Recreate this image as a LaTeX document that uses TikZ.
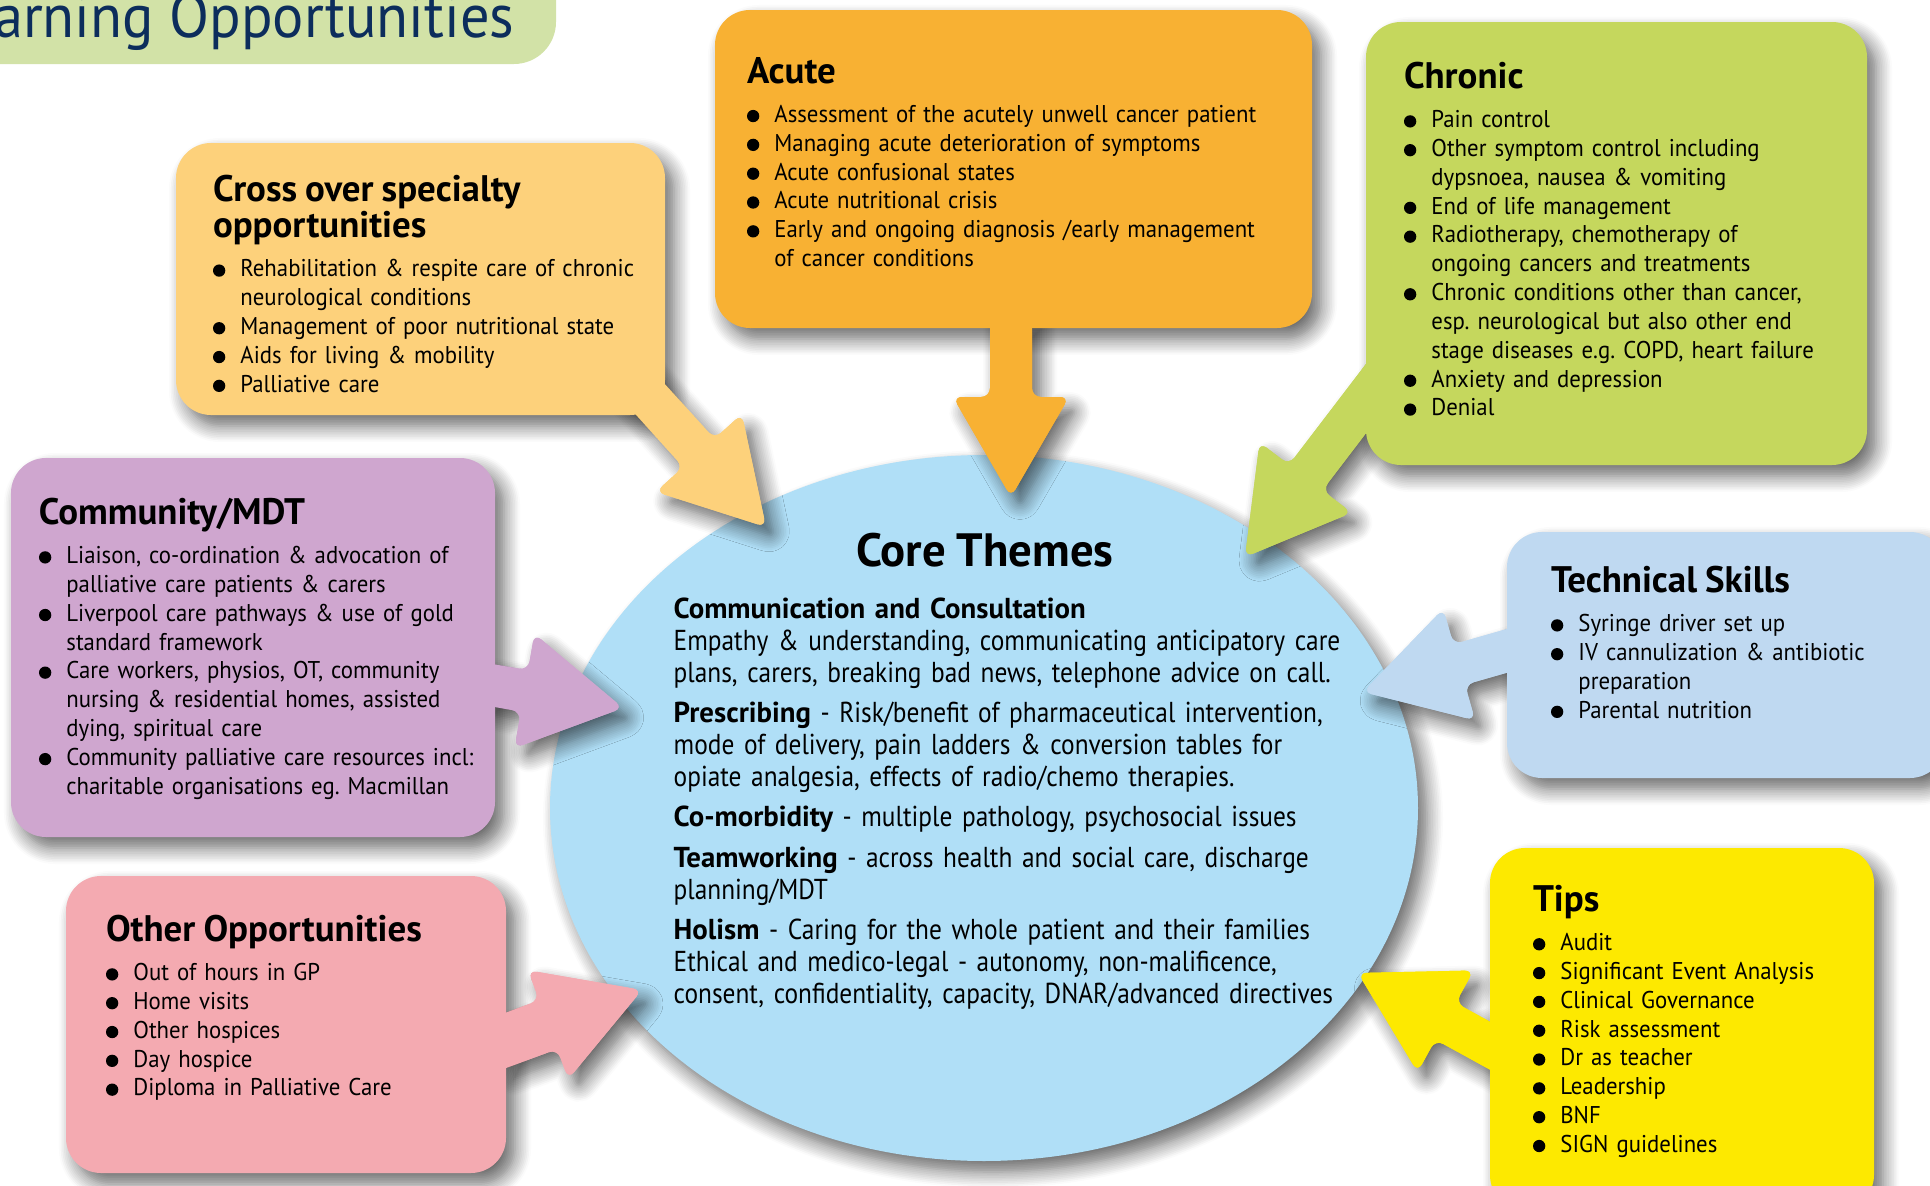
\documentclass[tikz,border=0pt]{standalone}
\usepackage{fontspec}
\setmainfont{PT Sans}[WordSpace=0.9]
\newfontfamily\boxfont{PT Sans}[FakeStretch=0.94, WordSpace=0.9]
\newfontfamily\corefont{PT Sans}[FakeStretch=0.88, WordSpace=0.85]
\newfontfamily\titlefont{PT Sans}[FakeStretch=0.95]
\usetikzlibrary{positioning,calc,shapes.geometric,shadows.blur}
\definecolor{pillgreen}{HTML}{D2E2A7}
\definecolor{titlenavy}{HTML}{0C2D5C}
\definecolor{boxacute}{HTML}{F8B133}
\definecolor{boxchronic}{HTML}{C5D75D}
\definecolor{boxcross}{HTML}{FDD17B}
\definecolor{boxcomm}{HTML}{CFA6CF}
\definecolor{boxother}{HTML}{F4AAB1}
\definecolor{boxtech}{HTML}{BFD9F1}
\definecolor{boxtips}{HTML}{FDE900}
\definecolor{coreblue}{HTML}{B0DFF7}

% bullet lists inside the callout boxes
\newlength{\bulw}\setlength{\bulw}{0.78em}
\newcommand{\bulsym}{\tikz[baseline=-1.8pt]\fill (0,0) circle (1.75pt);}
\newcommand{\itm}[1]{\hangindent=\bulw\hangafter=1\noindent\makebox[\bulw][l]{\bulsym}#1\par}
\newcommand{\hd}[1]{{\rmfamily\fontsize{10.5}{10.3}\selectfont\bfseries\noindent #1\par}\vspace{3pt}}
\newcommand{\theme}[1]{\par\noindent{\rmfamily\bfseries #1}}

% fat callout arrow: [half stem width]{from}{tip}{style}
\newcommand{\fatarrow}[4][0.21cm]{%
  \coordinate (fa-b) at ($(#3)!1cm!(#2)$);
  \path[#4] ($(#2)!#1!90:(#3)$) [rounded corners=2.5pt]
    -- ($(fa-b)!#1!90:(#3)$) -- ($(fa-b)!0.58cm!90:(#3)$) -- (#3)
    -- ($(fa-b)!0.58cm!-90:(#3)$) -- ($(fa-b)!#1!-90:(#3)$)
    [sharp corners] -- ($(#2)!#1!-90:(#3)$) -- cycle;}
\newcommand{\callouts}[1]{%
  \fatarrow{cross-out}{cross-in}{fill=boxcross,#1}
  \fatarrow{acute-out}{acute-in}{fill=boxacute,#1}
  \fatarrow{chronic-out}{chronic-in}{fill=boxchronic,#1}
  \fatarrow{comm-out}{comm-in}{fill=boxcomm,#1}
  \fatarrow[0.26cm]{other-out}{other-in}{fill=boxother,#1}
  \fatarrow{tech-out}{tech-in}{fill=boxtech,#1}
  \fatarrow{tips-out}{tips-in}{fill=boxtips,#1}}

\begin{document}
\frenchspacing
\begin{tikzpicture}[
    softshadow/.style={blur shadow={shadow xshift=0.09cm, shadow yshift=-0.11cm,
        shadow blur radius=0.16cm, shadow opacity=60, shadow blur steps=10}},
    box/.style={rectangle, rounded corners=0.35cm, inner sep=0pt, softshadow},
    txt/.style={anchor=north west, inner sep=0pt, text width=7cm, align=left,
        font=\boxfont\fontsize{6.9}{8.2}\selectfont},
    coretxt/.style={anchor=north west, inner sep=0pt, text width=7.6cm, align=left,
        font=\corefont\fontsize{8.2}{9.1}\selectfont, execute at begin node={\setlength{\parskip}{2.4pt}}}
  ]
  \useasboundingbox (0,0) rectangle (19.30,11.85);
  \clip (0,0) rectangle (19.30,11.85);

  % ================= banner =================
  \node[fill=pillgreen, rounded corners=0.42cm, minimum width=6.6cm, minimum height=1.3cm]
    (banner) at (2.26,11.86) {};
  \node[anchor=base east, font=\titlefont\fontsize{17.5}{20}\selectfont, text=titlenavy, inner sep=0pt]
    (title) at (5.15,11.48) {Learning Opportunities};

  % ================= core themes =================
  \node[ellipse, fill=coreblue, minimum width=8.68cm, minimum height=7.06cm, softshadow]
    (core) at (9.84,3.77) {};
  \node[anchor=base, inner sep=0pt, font=\fontsize{13.3}{15}\selectfont\bfseries]
    (core-h) at (9.85,6.19) {Core Themes};
  \node[coretxt] (core-t) at (6.73,6.08) {%
    \theme{Communication and Consultation}\newline
    Empathy \& understanding, communicating anticipatory care\newline
    plans, carers, breaking bad news, telephone advice on call.
    \theme{Prescribing} - Risk/benefit of pharmaceutical intervention,\newline
    mode of delivery, pain ladders \& conversion tables for\newline
    opiate analgesia, effects of radio/chemo therapies.
    \theme{Co-morbidity} - multiple pathology, psychosocial issues
    \theme{Teamworking} - across health and social care, discharge\newline
    planning/MDT
    \theme{Holism} - Caring for the whole patient and their families\newline
    Ethical and medico-legal - autonomy, non-malificence,\newline
    consent, confidentiality, capacity, DNAR/advanced directives\par};

  % ================= arrow ends =================
  \coordinate (cross-out)   at (6.31,8.07);  \coordinate (cross-in)   at (7.66,6.58);
  \coordinate (acute-out)   at (10.11,8.67); \coordinate (acute-in)   at (10.11,6.88);
  \coordinate (chronic-out) at (13.84,8.10); \coordinate (chronic-in) at (12.45,6.28);
  \coordinate (comm-out)    at (4.85,5.01);  \coordinate (comm-in)    at (6.23,4.77);
  \coordinate (other-out)   at (4.96,1.41);  \coordinate (other-in)   at (6.42,1.95);
  \coordinate (tech-out)    at (15.17,5.37); \coordinate (tech-in)    at (13.63,4.93);
  \coordinate (tips-out)    at (15.05,1.31); \coordinate (tips-in)    at (13.58,2.12);

  \callouts{softshadow}

  % ================= callout boxes =================
  \node[box, fill=boxcross, minimum width=4.89cm, minimum height=2.72cm] (cross) at (4.205,9.06) {};
  \node[box, fill=boxacute, minimum width=5.97cm, minimum height=3.18cm] (acute) at (10.135,10.16) {};
  \node[box, fill=boxchronic, minimum width=5.01cm, minimum height=4.43cm] (chronic) at (16.165,9.415) {};
  \node[box, fill=boxcomm, minimum width=4.84cm, minimum height=3.79cm] (comm) at (2.53,5.375) {};
  \node[box, fill=boxother, minimum width=4.40cm, minimum height=2.97cm] (other) at (2.86,1.605) {};
  \node[box, fill=boxtech, minimum width=4.38cm, minimum height=2.46cm] (tech) at (17.26,5.30) {};
  \node[box, fill=boxtips, minimum width=3.84cm, minimum height=3.62cm] (tips) at (16.82,1.56) {};

  \callouts{}

  % ================= box texts =================
  \node[txt] (cross-t) at ([shift={(0.37,-0.32)}]cross.north west) {%
    \hd{Cross over specialty\newline opportunities}
    \itm{Rehabilitation \& respite care of chronic\newline neurological conditions}
    \itm{Management of poor nutritional state}
    \itm{Aids for living \& mobility}
    \itm{Palliative care}};
  \node[txt] (acute-t) at ([shift={(0.32,-0.47)}]acute.north west) {%
    \hd{Acute}
    \itm{Assessment of the acutely unwell cancer patient}
    \itm{Managing acute deterioration of symptoms}
    \itm{Acute confusional states}
    \itm{Acute nutritional crisis}
    \itm{Early and ongoing diagnosis /early management\newline of cancer conditions}};
  \node[txt] (chronic-t) at ([shift={(0.38,-0.40)}]chronic.north west) {%
    \hd{Chronic}
    \itm{Pain control}
    \itm{Other symptom control including\newline dypsnoea, nausea \& vomiting}
    \itm{End of life management}
    \itm{Radiotherapy, chemotherapy of\newline ongoing cancers and treatments}
    \itm{Chronic conditions other than cancer,\newline esp. neurological but also other end\newline stage diseases e.g. COPD, heart failure}
    \itm{Anxiety and depression}
    \itm{Denial}};
  \node[txt] (comm-t) at ([shift={(0.28,-0.40)}]comm.north west) {%
    \hd{Community/MDT}
    \itm{Liaison, co-ordination \& advocation of\newline palliative care patients \& carers}
    \itm{Liverpool care pathways \& use of gold\newline standard framework}
    \itm{Care workers, physios, OT, community\newline nursing \& residential homes, assisted\newline dying, spiritual care}
    \itm{Community palliative care resources incl:\newline charitable organisations eg. Macmillan}};
  \node[txt] (other-t) at ([shift={(0.40,-0.39)}]other.north west) {%
    \hd{Other Opportunities}
    \itm{Out of hours in GP}
    \itm{Home visits}
    \itm{Other hospices}
    \itm{Day hospice}
    \itm{Diploma in Palliative Care}};
  \node[txt] (tech-t) at ([shift={(0.44,-0.34)}]tech.north west) {%
    \hd{Technical Skills}
    \itm{Syringe driver set up}
    \itm{IV cannulization \& antibiotic\newline preparation}
    \itm{Parental nutrition}};
  \node[txt] (tips-t) at ([shift={(0.43,-0.37)}]tips.north west) {%
    \hd{Tips}
    \itm{Audit}
    \itm{Significant Event Analysis}
    \itm{Clinical Governance}
    \itm{Risk assessment}
    \itm{Dr as teacher}
    \itm{Leadership}
    \itm{BNF}
    \itm{SIGN guidelines}};
\end{tikzpicture}
\end{document}
